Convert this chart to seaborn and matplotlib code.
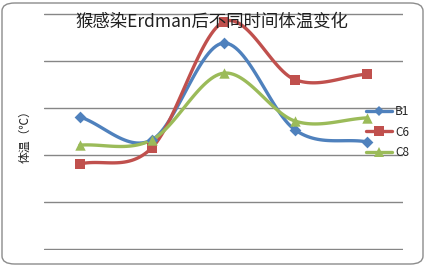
import numpy as np
import pandas as pd
import matplotlib
matplotlib.use("Agg")
import matplotlib.pyplot as plt
import seaborn as sns
from matplotlib.lines import Line2D
from matplotlib.patches import FancyBboxPatch

# ---- data ----
time_points = ["T1", "T2", "T3", "T4", "T5"]
b1 = [38.81, 38.32, 40.38, 38.53, 38.28]
c6 = [37.81, 38.15, 40.83, 39.60, 39.72]
c8 = [38.21, 38.32, 39.74, 38.72, 38.79]
series_names = ["B1", "C6", "C8"]
title_text = "猴感染Erdman后不同时间体温变化"
ylabel_text = "体温（℃）"

colors = {"B1": "#4F81BD", "C6": "#C0504D", "C8": "#9BBB59"}
markers = {"B1": "D", "C6": "s", "C8": "^"}
msizes = {"B1": 6, "C6": 7.5, "C8": 7.5}

df = pd.DataFrame({"x": list(range(len(time_points))) * 3,
                   "value": b1 + c6 + c8,
                   "series": sum([[s] * len(time_points) for s in series_names], [])})

sns.set_theme(style="white")
plt.rcParams['font.family'] = ['Noto Sans CJK SC', 'DejaVu Sans']

fig = plt.figure(figsize=(4.26, 2.66), dpi=100)
ax = fig.add_axes([44 / 426, 16 / 266, 359 / 426, 237 / 266])


def catmull_rom(xs, ys, n=30):
    xs = np.asarray(xs, float)
    ys = np.asarray(ys, float)
    px = np.concatenate([[2 * xs[0] - xs[1]], xs, [2 * xs[-1] - xs[-2]]])
    py = np.concatenate([[2 * ys[0] - ys[1]], ys, [2 * ys[-1] - ys[-2]]])
    outx, outy = [], []
    for i in range(1, len(px) - 2):
        t = np.linspace(0, 1, n)
        for arr, out in ((px, outx), (py, outy)):
            p0, p1, p2, p3 = arr[i - 1], arr[i], arr[i + 1], arr[i + 2]
            m1 = (p2 - p0) / 2
            m2 = (p3 - p1) / 2
            h00 = 2 * t**3 - 3 * t**2 + 1
            h10 = t**3 - 2 * t**2 + t
            h01 = -2 * t**3 + 3 * t**2
            h11 = t**3 - t**2
            out.extend(h00 * p1 + h10 * m1 + h01 * p2 + h11 * m2)
    return np.array(outx), np.array(outy)


handles = []
for s in series_names:
    sub = df[df["series"] == s]
    sx, sy = catmull_rom(sub["x"].values, sub["value"].values)
    ax.plot(sx, sy, color=colors[s], lw=2.4, solid_capstyle="round", zorder=3)
    sns.scatterplot(data=sub, x="x", y="value", color=colors[s], marker=markers[s],
                    s=msizes[s] ** 2, edgecolor=colors[s], linewidth=0, ax=ax,
                    zorder=4, legend=False)
    handles.append(Line2D([0], [0], color=colors[s], lw=2.4, marker=markers[s],
                          markersize=msizes[s] * 0.9, markeredgewidth=0))

ax.set_xlim(-0.5, len(time_points) - 0.5)
ax.set_ylim(35.98, 41.02)
ax.set_yticks(np.arange(36, 41.1, 1))
ax.set_xticks([])
ax.tick_params(axis="y", length=0, labelleft=False)
ax.yaxis.grid(True, color="#868686", lw=1.0)
ax.xaxis.grid(False)
for sp in ax.spines.values():
    sp.set_visible(False)
ax.set_xlabel("")
ax.set_ylabel("")

fig.text(212 / 426, 1 - 22 / 266, title_text, ha="center", va="center",
         fontsize=12.5, color="#202020", zorder=10)
fig.text(25 / 426, 1 - 134 / 266, ylabel_text, ha="center", va="center",
         rotation=90, fontsize=8.5, color="#202020")

leg = fig.legend(handles, series_names, loc="center left",
                 bbox_to_anchor=(366 / 426, 1 - 132 / 266), frameon=False,
                 fontsize=8.5, handlelength=2.2, handletextpad=0.25,
                 labelspacing=0.62, borderpad=0, borderaxespad=0)

border = FancyBboxPatch((2 / 426, 2 / 266), 421 / 426, 261 / 266,
                        boxstyle="round,pad=0,rounding_size=0.03",
                        transform=fig.transFigure, fill=False,
                        edgecolor="#8c8c8c", lw=1.0)
fig.patches.append(border)

fig.savefig("out.png", dpi=100)
